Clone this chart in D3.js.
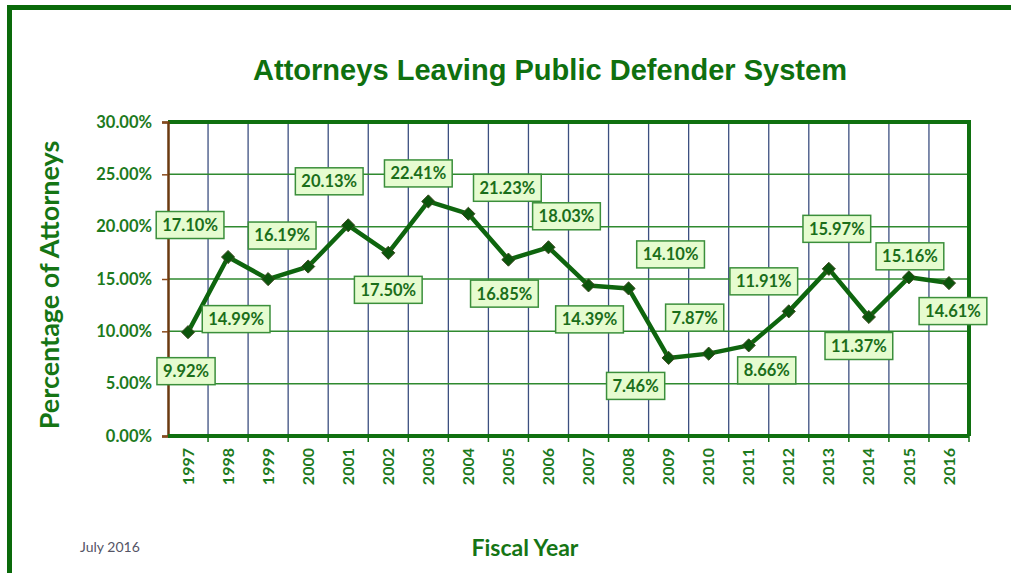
<!DOCTYPE html>
<html>
<head>
<meta charset="utf-8">
<script src="https://cdn.jsdelivr.net/npm/d3@7"></script>
<style>
  body { margin: 0; background: #fff; }
  svg { display: block; }
</style>
</head>
<body>
<svg id="chart" width="1011" height="573"></svg>
<script>
// the data
var years = ["1997", "1998", "1999", "2000", "2001", "2002", "2003", "2004", "2005", "2006",
             "2007", "2008", "2009", "2010", "2011", "2012", "2013", "2014", "2015", "2016"];
var rates = [9.92, 17.10, 14.99, 16.19, 20.13, 17.50, 22.41, 21.23, 16.85, 18.03,
             14.39, 14.10, 7.46, 7.87, 8.66, 11.91, 15.97, 11.37, 15.16, 14.61];
var yTicks = [0, 5, 10, 15, 20, 25, 30];

// where each data label box sits relative to its point (pixels)
var labelDx = [-2, -38, -32, -26, -19, 0, -10, 39, -4, 18, 1, 42, -33, -14, 18, -25, 8, -10, 1, 4];
var labelDy = [39, -32, 40, -31, -44, 37, -28, -26, 34, -31, 34, -34, 28, -36, 25, -30, -40, 29, -21, 28];

var svg = d3.select("#chart"),
    margin = {top: 122, right: 40, bottom: 137, left: 168},
    width = +svg.attr("width") - margin.left - margin.right - 2,
    height = +svg.attr("height") - margin.top - margin.bottom;

var green = "#107010",
    textGreen = "#1d7a1d",
    font = "Lato, 'Open Sans', sans-serif";

// outer frame
svg.append("path")
    .attr("d", "M9.5,573 V7.5 H1011")
    .attr("fill", "none")
    .attr("stroke", "#0a6a0a")
    .attr("stroke-width", 5);

svg.append("text")
    .attr("x", 550)
    .attr("y", 80)
    .attr("text-anchor", "middle")
    .attr("font-family", "'Liberation Sans', Arial, sans-serif")
    .attr("font-weight", "bold")
    .attr("font-size", 30)
    .attr("textLength", 594)
    .attr("lengthAdjust", "spacingAndGlyphs")
    .attr("fill", "#0f700f")
    .text("Attorneys Leaving Public Defender System");

var x = d3.scaleBand().domain(years).range([0, width]),
    y = d3.scaleLinear().domain([0, 30]).range([height, 0]);

var g = svg.append("g")
    .attr("transform", "translate(" + margin.left + "," + margin.top + ")");

// vertical grid (navy)
g.append("g")
    .selectAll("line")
    .data(years.slice(1))
    .enter().append("line")
      .attr("x1", function(d) { return x(d); })
      .attr("x2", function(d) { return x(d); })
      .attr("y1", 0)
      .attr("y2", height)
      .attr("stroke", "#3c4f80")
      .attr("stroke-width", 1.3);

// horizontal grid (green)
g.append("g")
    .selectAll("line")
    .data(yTicks.slice(1, -1))
    .enter().append("line")
      .attr("x1", 0)
      .attr("x2", width)
      .attr("y1", function(d) { return y(d); })
      .attr("y2", function(d) { return y(d); })
      .attr("stroke", "#2f8a2f")
      .attr("stroke-width", 1.5);

// top and right border of the plot
g.append("path")
    .attr("d", "M0," + y(30) + " H" + width + " V" + height)
    .attr("fill", "none")
    .attr("stroke", green)
    .attr("stroke-width", 4);

// y axis
var yAxis = g.append("g")
    .call(d3.axisLeft(y).tickValues(yTicks).tickSize(6)
      .tickFormat(function(d) { return d.toFixed(2) + "%"; }));
yAxis.select(".domain").attr("stroke", "#6b3a10").attr("stroke-width", 2.5);
yAxis.selectAll(".tick line").attr("stroke", "#8a4a1a").attr("stroke-width", 1.5);
yAxis.selectAll(".tick text")
    .attr("x", -16)
    .attr("font-family", font)
    .attr("font-weight", "bold")
    .attr("font-size", 16.5)
    .attr("fill", textGreen);

// x axis
var xAxis = g.append("g")
    .attr("transform", "translate(0," + height + ")")
    .call(d3.axisBottom(x).tickSize(6).tickSizeOuter(0));
xAxis.select(".domain").attr("stroke", green).attr("stroke-width", 4)
    .attr("d", "M0,0 H" + width);
// ticks go on the band edges, not on the centers
xAxis.selectAll(".tick line")
    .attr("x1", x.bandwidth() / 2).attr("x2", x.bandwidth() / 2)
    .attr("stroke", green).attr("stroke-width", 1.5);
xAxis.selectAll(".tick text")
    .attr("transform", "rotate(-90)")
    .attr("text-anchor", "end")
    .attr("x", -12)
    .attr("y", 0)
    .attr("dy", "0.35em")
    .attr("font-family", font)
    .attr("font-weight", "bold")
    .attr("font-size", 16)
    .attr("fill", textGreen);

// the line
var line = d3.line()
    .x(function(d, i) { return x(years[i]) + x.bandwidth() / 2; })
    .y(function(d) { return y(d); });

g.append("path")
    .datum(rates)
    .attr("d", line)
    .attr("fill", "none")
    .attr("stroke", "#0e650e")
    .attr("stroke-width", 4.5)
    .attr("stroke-linejoin", "round");

g.selectAll(".marker")
    .data(rates)
    .enter().append("path")
      .attr("class", "marker")
      .attr("d", d3.symbol().type(d3.symbolDiamond2).size(110))
      .attr("transform", function(d, i) {
        return "translate(" + (x(years[i]) + x.bandwidth() / 2) + "," + y(d) + ")";
      })
      .attr("fill", "#0b550b")
      .attr("stroke", "#3c4a20")
      .attr("stroke-width", 1);

// data labels
var labels = g.selectAll(".label")
    .data(rates)
    .enter().append("g")
      .attr("class", "label")
      .attr("transform", function(d, i) {
        var px = x(years[i]) + x.bandwidth() / 2 + labelDx[i],
            py = y(d) + labelDy[i];
        return "translate(" + px + "," + py + ")";
      });

labels.append("text")
    .attr("text-anchor", "middle")
    .attr("dy", "0.36em")
    .attr("font-family", font)
    .attr("font-weight", "bold")
    .attr("font-size", 16.5)
    .attr("fill", "#1a6e1a")
    .text(function(d) { return d.toFixed(2) + "%"; });

labels.each(function() {
  var grp = d3.select(this),
      w = grp.select("text").node().getComputedTextLength() + 12;
  grp.insert("rect", "text")
      .attr("x", -w / 2)
      .attr("y", -13.5)
      .attr("width", w)
      .attr("height", 27)
      .attr("fill", "#e6fcd0")
      .attr("stroke", "#3b8f3b")
      .attr("stroke-width", 1.5);
});

// axis titles
svg.append("text")
    .attr("transform", "translate(59,285) rotate(-90)")
    .attr("text-anchor", "middle")
    .attr("font-family", font)
    .attr("font-weight", "bold")
    .attr("font-size", 27)
    .attr("fill", "#157515")
    .text("Percentage of Attorneys");

svg.append("text")
    .attr("x", 525)
    .attr("y", 556)
    .attr("text-anchor", "middle")
    .attr("font-family", font)
    .attr("font-weight", "bold")
    .attr("font-size", 23)
    .attr("fill", "#157515")
    .text("Fiscal Year");

svg.append("text")
    .attr("x", 80)
    .attr("y", 552)
    .attr("font-family", font)
    .attr("font-size", 14)
    .attr("fill", "#555566")
    .text("July  2016");
</script>
</body>
</html>
